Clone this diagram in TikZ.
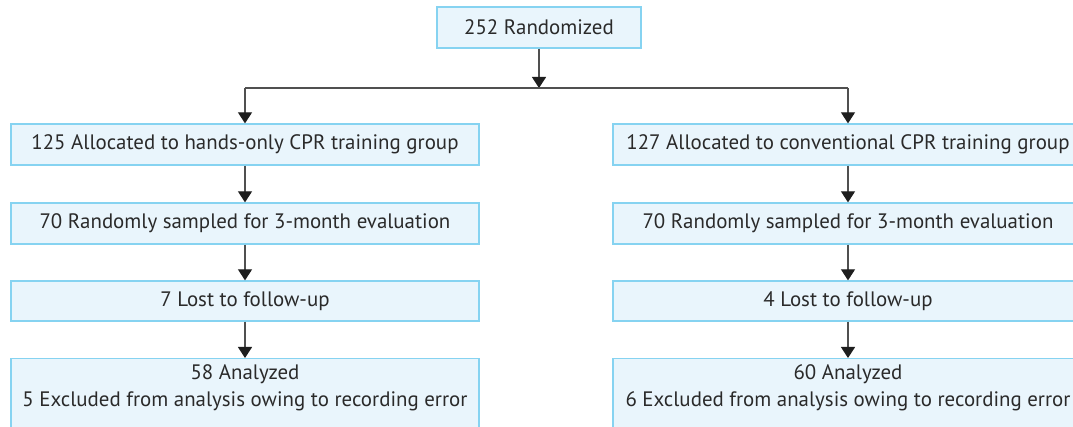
\documentclass[tikz,border=0pt]{standalone}
\usepackage{fontspec}
\setmainfont{PT Sans}
\usetikzlibrary{arrows.meta}
\definecolor{boxfill}{HTML}{E9F5FC}
\definecolor{boxline}{HTML}{86D3F1}
\definecolor{linecol}{HTML}{505050}
\definecolor{tipcol}{HTML}{1E1E1E}
\definecolor{textcol}{HTML}{2A2A2A}
\tikzset{
  flowbox/.style={draw=boxline, fill=boxfill, line width=1.3pt, inner sep=0pt,
    text=textcol, font=\fontsize{20.9}{27}\selectfont},
  groupbox/.style={flowbox, minimum height=41pt},
  flowarrow/.style={draw=linecol, line width=1.2pt,
    -{Triangle[width=14pt,length=11pt,color=tipcol]}},
  splitline/.style={draw=linecol, line width=1.2pt}
}
\begin{document}
\begin{tikzpicture}[x=1pt, y=-1pt]
  \useasboundingbox (0,0) rectangle (1073,427);
  \clip (0,0) rectangle (1073,427);
  \fill[white] (0,0) rectangle (1073,427);

  % randomisation
  \node[groupbox, minimum width=204pt] (rand) at (539,27.5) {252 Randomized};
  \coordinate (split) at (539,88);

  % hands-only arm
  \node[groupbox, minimum width=468pt] (l1) at (245,144.5) {125 Allocated to hands-only CPR training group};
  \node[groupbox, minimum width=468pt] (l2) at (245,223.5) {70 Randomly sampled for 3-month evaluation};
  \node[groupbox, minimum width=468pt, minimum height=40pt] (l3) at (245,301) {7 Lost to follow-up};
  \node[flowbox, minimum width=468pt, anchor=north, inner ysep=2pt] (l4) at (245,358)
    {\begin{tabular}{@{}c@{}}58 Analyzed\\5 Excluded from analysis owing to recording error\\[14pt]\end{tabular}};

  % conventional arm
  \node[groupbox, minimum width=470pt] (r1) at (848,144.5) {127 Allocated to conventional CPR training group};
  \node[groupbox, minimum width=470pt] (r2) at (848,223.5) {70 Randomly sampled for 3-month evaluation};
  \node[groupbox, minimum width=470pt, minimum height=40pt] (r3) at (848,301) {4 Lost to follow-up};
  \node[flowbox, minimum width=470pt, anchor=north, inner ysep=2pt] (r4) at (848,358)
    {\begin{tabular}{@{}c@{}}60 Analyzed\\6 Excluded from analysis owing to recording error\\[14pt]\end{tabular}};

  % connectors
  \draw[flowarrow] (rand.south) -- (split);
  \draw[splitline] (l1.north |- split) -- (r1.north |- split);
  \draw[flowarrow] (l1.north |- split) -- (l1.north);
  \draw[flowarrow] (r1.north |- split) -- (r1.north);
  \draw[flowarrow] (l1) -- (l2);
  \draw[flowarrow] (l2) -- (l3);
  \draw[flowarrow] (l3) -- (l4);
  \draw[flowarrow] (r1) -- (r2);
  \draw[flowarrow] (r2) -- (r3);
  \draw[flowarrow] (r3) -- (r4);
\end{tikzpicture}
\end{document}
